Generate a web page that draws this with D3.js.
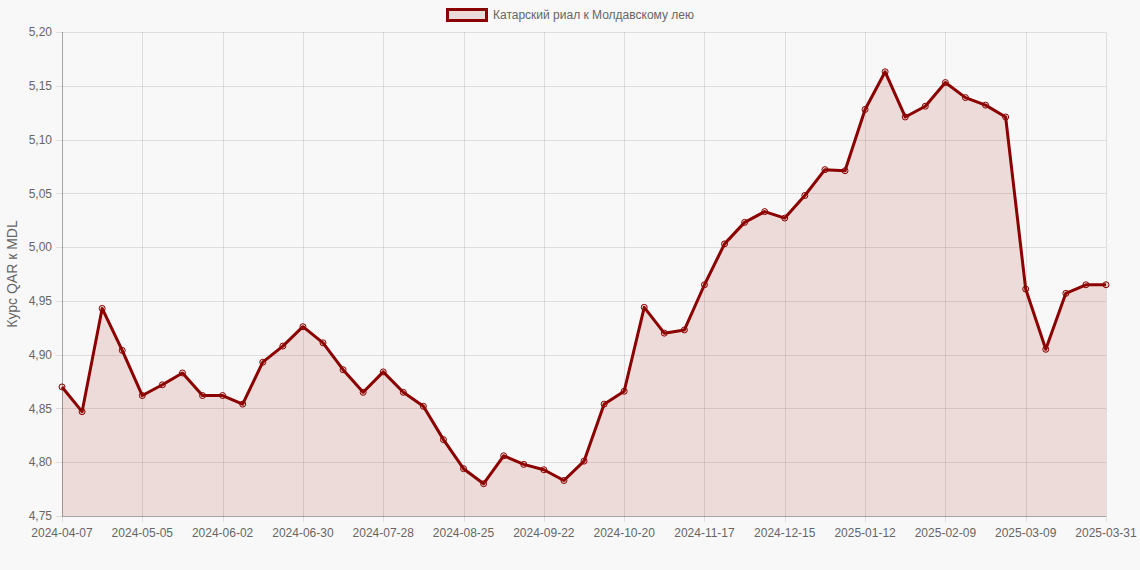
<!DOCTYPE html>
<meta charset="utf-8">
<script src="https://cdn.jsdelivr.net/npm/d3@7"></script>
<head>
<style>
    body { margin: 0; background: #f8f8f8; }
    text { font-family: "Liberation Sans", Arial, sans-serif; }
</style>
</head>
<body>
<script>

    var dates = [
        "2024-04-07","2024-04-14","2024-04-21","2024-04-28","2024-05-05","2024-05-12","2024-05-19","2024-05-26",
        "2024-06-02","2024-06-09","2024-06-16","2024-06-23","2024-06-30","2024-07-07","2024-07-14","2024-07-21",
        "2024-07-28","2024-08-04","2024-08-11","2024-08-18","2024-08-25","2024-09-01","2024-09-08","2024-09-15",
        "2024-09-22","2024-09-29","2024-10-06","2024-10-13","2024-10-20","2024-10-27","2024-11-03","2024-11-10",
        "2024-11-17","2024-11-24","2024-12-01","2024-12-08","2024-12-15","2024-12-22","2024-12-29","2025-01-05",
        "2025-01-12","2025-01-19","2025-01-26","2025-02-02","2025-02-09","2025-02-16","2025-02-23","2025-03-02",
        "2025-03-09","2025-03-16","2025-03-23","2025-03-30","2025-03-31"
    ];

    var rates = [
        4.870, 4.847, 4.943, 4.904, 4.862, 4.872, 4.883, 4.862,
        4.862, 4.854, 4.893, 4.908, 4.926, 4.911, 4.886, 4.865,
        4.884, 4.865, 4.852, 4.821, 4.794, 4.780, 4.806, 4.798,
        4.793, 4.783, 4.801, 4.854, 4.866, 4.944, 4.920, 4.923,
        4.965, 5.003, 5.023, 5.033, 5.027, 5.048, 5.072, 5.071,
        5.128, 5.163, 5.121, 5.131, 5.153, 5.139, 5.132, 5.121,
        4.961, 4.905, 4.957, 4.965, 4.965
    ];

    var yTicks = [4.75, 4.80, 4.85, 4.90, 4.95, 5.00, 5.05, 5.10, 5.15, 5.20];
    var seriesName = "Катарский риал к Молдавскому лею";
    var yTitle = "Курс QAR к MDL";

    var chartW = 1140, chartH = 570;
    var plotLeft = 62, plotRight = 1106, plotTop = 32, plotBottom = 516;
    var lineColor = "#8b0000";
    var fillColor = "rgba(160,40,20,0.14)";

    var svg = d3.select("body").append("svg")
        .attr("width", chartW)
        .attr("height", chartH);

    var x = d3.scalePoint()
        .domain(dates)
        .range([plotLeft, plotRight]);

    var y = d3.scaleLinear()
        .domain([4.75, 5.20])
        .range([plotBottom, plotTop]);

    var fmt = function(d) { return d3.format(".2f")(d).replace(".", ","); };

    // horizontal grid
    svg.append("g")
        .selectAll("line")
        .data(yTicks)
        .enter().append("line")
        .attr("x1", plotLeft - 6)
        .attr("x2", plotRight)
        .attr("y1", function(d) { return Math.round(y(d)) + 0.5; })
        .attr("y2", function(d) { return Math.round(y(d)) + 0.5; })
        .style("stroke", "rgba(0,0,0,0.1)");

    var xTickDates = dates.filter(function(d, i) { return i % 4 === 0; });

    // vertical grid
    svg.append("g")
        .selectAll("line")
        .data(xTickDates)
        .enter().append("line")
        .attr("x1", function(d) { return Math.round(x(d)) + 0.5; })
        .attr("x2", function(d) { return Math.round(x(d)) + 0.5; })
        .attr("y1", plotTop)
        .attr("y2", plotBottom + 6)
        .style("stroke", "rgba(0,0,0,0.1)");

    // area + line
    var area = d3.area()
        .x(function(d, i) { return x(dates[i]); })
        .y0(plotBottom)
        .y1(function(d) { return y(d); });

    var line = d3.line()
        .x(function(d, i) { return x(dates[i]); })
        .y(function(d) { return y(d); });

    svg.append("path")
        .datum(rates)
        .attr("d", area)
        .style("fill", fillColor);

    // axis lines
    svg.append("line")
        .attr("x1", plotLeft + 0.5).attr("x2", plotLeft + 0.5)
        .attr("y1", plotTop).attr("y2", plotBottom)
        .style("stroke", "rgba(0,0,0,0.25)");
    svg.append("line")
        .attr("x1", plotLeft).attr("x2", plotRight)
        .attr("y1", plotBottom + 0.5).attr("y2", plotBottom + 0.5)
        .style("stroke", "rgba(0,0,0,0.25)");

    svg.append("path")
        .datum(rates)
        .attr("d", line)
        .style("fill", "none")
        .style("stroke", lineColor)
        .style("stroke-width", 3)
        .style("stroke-linejoin", "round");

    svg.append("g")
        .selectAll("circle")
        .data(rates)
        .enter().append("circle")
        .attr("cx", function(d, i) { return x(dates[i]); })
        .attr("cy", function(d) { return y(d); })
        .attr("r", 3)
        .style("fill", fillColor)
        .style("stroke", lineColor)
        .style("stroke-width", 1);

    // y labels
    svg.append("g")
        .selectAll("text")
        .data(yTicks)
        .enter().append("text")
        .attr("x", plotLeft - 10)
        .attr("y", function(d) { return y(d); })
        .attr("dy", "0.35em")
        .attr("text-anchor", "end")
        .style("font-size", "12px")
        .style("fill", "#666")
        .text(fmt);

    // x labels
    svg.append("g")
        .selectAll("text")
        .data(xTickDates)
        .enter().append("text")
        .attr("x", function(d) { return x(d); })
        .attr("y", plotBottom + 21)
        .attr("text-anchor", "middle")
        .style("font-size", "12px")
        .style("fill", "#666")
        .text(function(d) { return d; });

    // y title
    svg.append("text")
        .attr("transform", "translate(17," + ((plotTop + plotBottom) / 2) + ") rotate(-90)")
        .attr("text-anchor", "middle")
        .style("font-size", "14px")
        .style("fill", "#666")
        .text(yTitle);

    // legend
    var legend = svg.append("g");
    legend.append("rect")
        .attr("x", 447.5).attr("y", 9.5)
        .attr("width", 39).attr("height", 11)
        .style("fill", fillColor)
        .style("stroke", lineColor)
        .style("stroke-width", 3);
    legend.append("text")
        .attr("x", 493)
        .attr("y", 15)
        .attr("dy", "0.35em")
        .style("font-size", "12px")
        .style("fill", "#666")
        .text(seriesName);

</script>
</body>
</html>
